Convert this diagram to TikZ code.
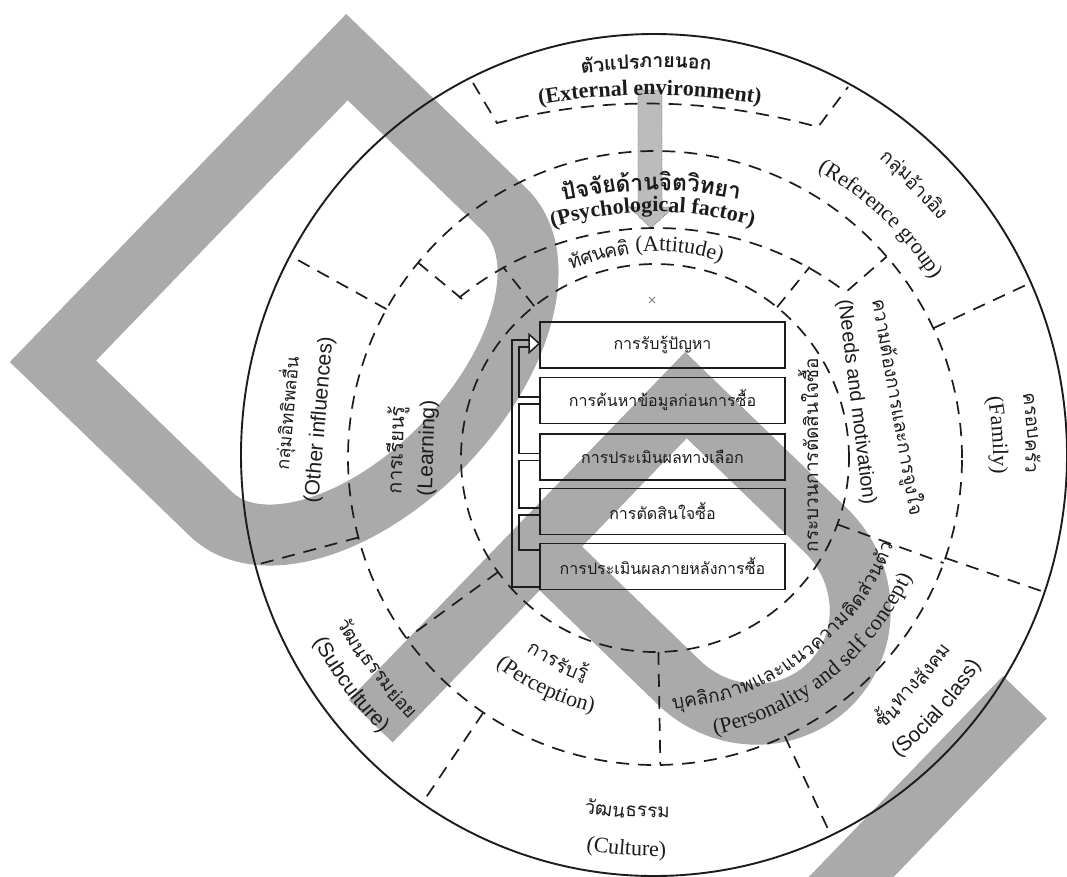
\documentclass[tikz,border=0pt]{standalone}
\usepackage{fontspec}
\setmainfont{Liberation Serif}
\newfontfamily\thaifont[Script=Thai]{Loma}
\newfontfamily\sansfont{Liberation Sans}
\usetikzlibrary{decorations.text}
\definecolor{ink}{RGB}{28,28,28}
\definecolor{wm}{RGB}{170,170,170}
\definecolor{arrowgray}{RGB}{188,188,188}
\newcommand\engR{\fontsize{22}{26}\selectfont}
\newcommand\engB{\fontsize{22}{26}\selectfont\bfseries}
\newcommand\engS{\sansfont\fontsize{21}{25}\selectfont}
\newcommand\engSs{\sansfont\fontsize{20}{24}\selectfont}
\newcommand\thL{\thaifont\fontsize{19}{23}\selectfont}
\newcommand\thLb{\thaifont\fontsize{20}{24}\selectfont}
\newcommand\thS{\thaifont\fontsize{18}{22}\selectfont}
\newcommand\thB{\thaifont\fontsize{19.5}{23}\selectfont\bfseries}
\newcommand\thBB{\thaifont\fontsize{23}{27}\selectfont\bfseries}
\newcommand\thBox{\thaifont\fontsize{16}{20}\selectfont}
\newsavebox\apbox
\newdimen\aptot \newdimen\apcum \newdimen\apw
\newcounter{lblc}
\makeatletter
\newcommand\ap@measure[1]{\pgfinterruptpicture\global\setbox\apbox\hbox{#1\ap@p}\endpgfinterruptpicture}
% #1 dir (1 = clockwise, tops outward; -1 = counterclockwise, tops inward)
% #2 centre angle, #3 radius of glyph centres, #4 font, #5 pieces
\newcommand\arcpieces[5]{%
  \global\aptot=0pt
  \@for\ap@p:=#5\do{\ap@measure{#4}\global\advance\aptot by\wd\apbox}%
  \global\apcum=0pt
  \@for\ap@p:=#5\do{%
    \ap@measure{#4}\global\apw=\wd\apbox
    \pgfmathsetmacro\ap@a{#2+(#1)*(\aptot/2-\apcum-\apw/2)/#3*57.29578}%
    \pgfmathsetmacro\ap@r{\ap@a-(#1)*90}%
    \stepcounter{lblc}%
    \node[inner sep=0pt,rotate=\ap@r,text=ink] (lbl\arabic{lblc}) at (\ap@a:#3) {#4\ap@p};
    \global\advance\apcum by\apw}%
}
% English text along an arc: #1 dir, #2 centre angle, #3 baseline radius, #4 font, #5 text
\newcommand\arcenglish[5]{%
  \pgfmathsetmacro\ae@s{#2+(#1)*70}\pgfmathsetmacro\ae@e{#2-(#1)*70}%
  \path[decorate,decoration={text along path,text={|#4|#5},text align=center,text color=ink}]
    (\ae@s:#3) arc[start angle=\ae@s,end angle=\ae@e,radius=#3];
}
\makeatother
\begin{document}
\begin{tikzpicture}[x=1pt,y=-1pt,
  dsh/.style={draw=ink,line width=1.7pt,dash pattern=on 13pt off 9pt},
  box/.style={draw=ink,line width=1.6pt,minimum width=245pt,minimum height=46pt,inner sep=0pt,font=\thBox,text=ink},
  conn/.style={draw=ink,line width=1.5pt},
  band/.style={draw=wm,line width=61pt,line join=miter},
  rot45/.style={x={(0.719pt,-0.695pt)},y={(0.695pt,0.719pt)}},
  lab/.style={inner sep=0pt,text=ink}]
\useasboundingbox (0,0) rectangle (1067,876);
\fill[white] (0,0) rectangle (1067,876);
\clip (0,0) rectangle (1067,876);

% ---------- watermark letters ----------
\begin{scope}[shift={(178,188)},rot45]
  \draw[band] (30.5,-211.5) -- (250,-211.5) arc[start angle=-90,end angle=90,x radius=119.5,y radius=211.5] -- (30.5,211.5) -- cycle;
\end{scope}
\begin{scope}[shift={(517,526)},rot45]
  \draw[band] (30.5,-242) -- (30.5,211.5) -- (225,211.5) arc[start angle=90,end angle=-90,x radius=110,y radius=105.75] -- (0,0);
\end{scope}
\begin{scope}[shift={(1003,676)},rot45]
  \draw[band] (30.5,0) -- (30.5,-400);
\end{scope}

% ---------- grey arrow ----------
\fill[arrowgray] (638,90) rectangle (662,210);
\fill[arrowgray] (629,207) -- (674,207) -- (651,228) -- cycle;
\draw[gray,densely dotted,line width=0.8pt] (638,90) -- (638,207) -- (629,207) -- (651,228) -- (674,207) -- (662,207) -- (662,90) -- cycle;

% ---------- circles ----------
\draw[ink,line width=1.9pt] (654,455) ellipse [x radius=413, y radius=421];
\begin{scope}
  \clip (654,455) ellipse [x radius=413, y radius=421];
  \begin{scope}[shift={(655,458)},y=1pt]
    \foreach \a in {25,151,195,236,295,341} \draw[dsh] (\a:307) -- (\a:440);
  \end{scope}
\end{scope}
\draw[dsh] (473,83) -- (497,123) .. controls (604,95) and (711,98) .. (818,127) -- (848,87);

\begin{scope}[shift={(655,458)},y=1pt]
  \draw[dsh] (0,0) circle[radius=307];
  \draw[dsh] (0,0) circle[radius=194];
  \draw[dsh] (128.5:194) -- (128.5:244);
  \draw[dsh] (51:194) -- (51:246);
  \draw[dsh] (140.5:250) -- (140.5:307);
  \draw[dsh] (41:255) -- (41:307);
  \draw[dsh] (216:194) -- (216:307);
  \draw[dsh] (271:194) -- (271:307);
  \draw[dsh] (340:194) -- (340:307);
\end{scope}
\begin{scope}[shift={(656,541)},y=1pt]
  \draw[dsh] (129:313) arc[start angle=129,end angle=52.7,radius=313];
\end{scope}

% small centre mark
\draw[gray,line width=0.8pt] (649,297) -- (655,303) (649,303) -- (655,297);

% ---------- decision boxes ----------
\node[box] (b1) at (662.5,345) {การรับรู้ปัญหา};
\node[box] (b2) at (662.5,400.5) {การค้นหาข้อมูลก่อนการซื้อ};
\node[box] (b3) at (662.5,457) {การประเมินผลทางเลือก};
\node[box] (b4) at (662.5,511.5) {การตัดสินใจซื้อ};
\node[box] (b5) at (662.5,566.5) {การประเมินผลภายหลังการซื้อ};
\node[font=\thL,text=ink,rotate=90] (proc) at (808,455) {กระบวนการตัดสินใจซื้อ};

% feedback pipe
\draw[conn] ([yshift=-20.5pt]b5.west) -- ++(-27,0) |- ([xshift=-10pt,yshift=5pt]b1.west);
\draw[conn] ([xshift=-10pt,yshift=-2pt]b1.west) -| ([xshift=-20pt,yshift=3.5pt]b2.west) -- ([yshift=3.5pt]b2.west);
\draw[conn] ([yshift=-3.5pt]b2.west) -- ++(-20,0) |- ([yshift=3.5pt]b3.west);
\draw[conn] ([yshift=-3.5pt]b3.west) -- ++(-20,0) |- ([yshift=3.5pt]b4.west);
\draw[conn] ([yshift=-3.5pt]b4.west) -- ++(-20,0) |- ([yshift=16.5pt]b5.west);
\draw[conn,fill=white] ([xshift=-10pt,yshift=10.5pt]b1.west) -- ([yshift=1.5pt]b1.west) -- ([xshift=-10pt,yshift=-7.5pt]b1.west) -- cycle;

% ---------- labels ----------
\begin{scope}[shift={(652,745)},y=1pt]
  \arcenglish{1}{90.2}{650}{\engB}{(External environment)}
  \arcpieces{1}{90.5}{683}{\thB}{ตัว,แปร,ภาย,นอก}
\end{scope}
\begin{scope}[shift={(655,560)},y=1pt]
  \arcenglish{1}{90.4}{348}{\engB}{(Psychological factor)}
  \arcpieces{1}{90.6}{379}{\thBB}{ปัจจัย,ด้าน,จิต,วิทยา}
\end{scope}
\begin{scope}[shift={(655,458)},y=1pt]
  \arcpieces{1}{46.5}{378}{\thL}{กลุ่ม,อ้าง,อิง}
  \arcenglish{1}{46.6}{330}{\engR}{(Reference group)}
  \arcpieces{1}{3.8}{378}{\thL}{ครอบ,ครัว}
  \arcenglish{1}{3.8}{338}{\engR}{(Family)}
  \arcpieces{-1}{-41.5}{344}{\thL}{ชั้น,ทาง,สังคม}
  \arcenglish{-1}{-41.7}{386}{\engS}{(Social class)}
  \arcpieces{-1}{265.5}{354}{\thL}{วัฒน,ธรรม}
  \arcenglish{-1}{265.8}{398}{\engR}{(Culture)}
  \arcpieces{-1}{217.1}{351}{\thL}{วัฒน,ธรรม,ย่อย}
  \arcenglish{-1}{216.7}{388}{\engS}{(Subculture)}
  \arcpieces{-1}{244.5}{227}{\thL}{การ,รับ,รู้}
  \arcenglish{-1}{244.4}{262}{\engR}{(Perception)}
  \arcpieces{-1}{307}{246}{\thL}{บุคลิก,ภาพ,และ,แนว,ความ,คิด,ส่วน,ตัว}
  \arcenglish{-1}{308.7}{283}{\engR}{(Personality and self concept)}
  \arcpieces{1}{105.5}{213}{\thL}{ทัศน,คติ}
  \arcenglish{1}{83.3}{207}{\engR}{(Attitude)}
\end{scope}
% nearly straight labels
\node[lab,font=\thS,rotate=85] (oth) at (287,413) {กลุ่มอิทธิพลอื่น};
\node[lab,font=\engS,rotate=85] (othE) at (320,420) {(Other influences)};
\node[lab,font=\thLb,rotate=88] (lrn) at (397,450) {การเรียนรู้};
\node[lab,font=\engS,rotate=88] (lrnE) at (428,448) {(Learning)};
\node[lab,font=\thL,rotate=-80] (need) at (897,407) {ความต้องการและการจูงใจ};
\node[lab,font=\engSs,rotate=-83] (needE) at (856,402) {(Needs and motivation)};
\end{tikzpicture}
\end{document}
